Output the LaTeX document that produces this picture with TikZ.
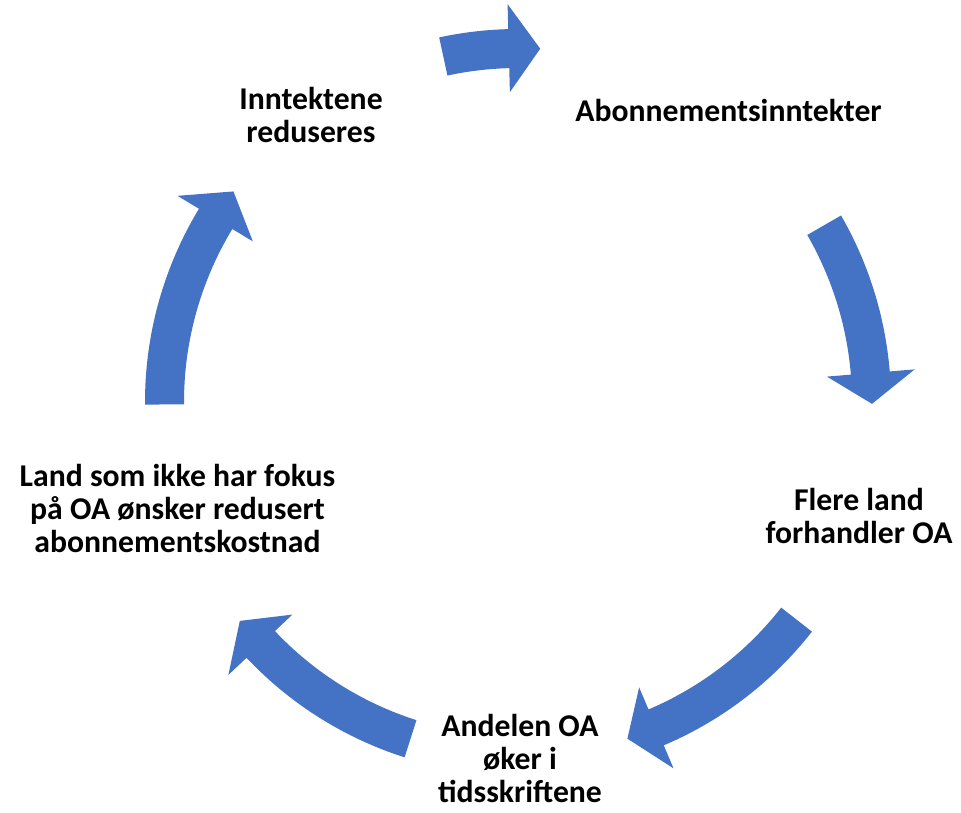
\documentclass[tikz,border=0pt]{standalone}
\usepackage{fontspec}
\setmainfont{Carlito}
\definecolor{arrblue}{HTML}{4472C4}
\newcommand\cycarr[3]{%
  \fill[arrblue]
    ([shift={(518,410)}]#1:373) arc[start angle=#1, end angle=#2, radius=373]
    -- ([shift={(518,410)}]#2:398)
    -- ([shift={(518,410)}]#3:354)
    -- ([shift={(518,410)}]#2:310)
    -- ([shift={(518,410)}]#2:334)
    arc[start angle=#2, end angle=#1, radius=334] -- cycle;}
\tikzset{lbl/.style={align=center, inner sep=0pt, anchor=base,
  font=\fontsize{31.7}{33}\selectfont\bfseries}}
\begin{document}
\begin{tikzpicture}[x=1pt,y=1pt]
\useasboundingbox (0,0) rectangle (961,812);
\cycarr{102.2}{91.5}{86.4}
\cycarr{30}{4.7}{-0.3}
\cycarr{-38}{-67}{-72}
\cycarr{-107.7}{-136.7}{-141.8}
\cycarr{180.4}{148.8}{143.5}
\node[lbl] (abon) at (728.5,690) {Abonnementsinntekter};
\node[lbl] (flere) at (859,269) {Flere land\\forhandler OA};
\node[lbl] (andel) at (520,10) {Andelen OA\\øker i\\tidsskriftene};
\node[lbl] (land) at (177.5,260) {Land som ikke har fokus\\på OA ønsker redusert\\abonnementskostnad};
\node[lbl] (innt) at (311,669) {Inntektene\\reduseres};
\end{tikzpicture}
\end{document}
